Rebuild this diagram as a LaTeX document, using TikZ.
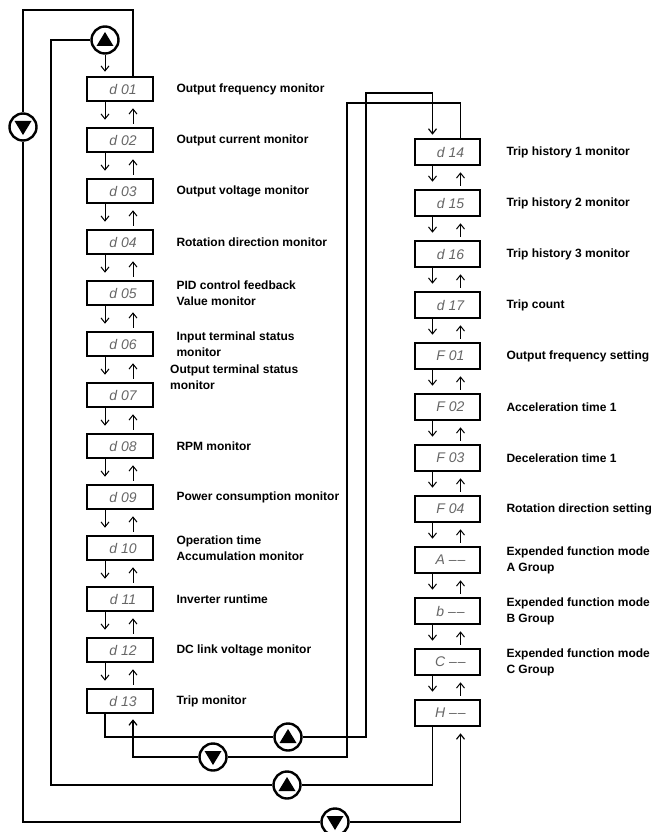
\documentclass[tikz,border=0pt]{standalone}
\usepackage{fontspec}
\usepackage{tikz}
\usetikzlibrary{arrows.meta,positioning}
\newfontfamily\lblfont{Liberation Sans}
\newfontfamily\dispfont{Liberation Sans}
\newcommand{\dsp}[1]{\hspace*{6pt}\textcolor{black!60}{#1}}

\tikzset{
  dispbox/.style={rectangle, draw=black, line width=2.6pt, minimum width=66pt, minimum height=24pt,
    inner sep=0pt, font=\dispfont\itshape\fontsize{14}{14}\selectfont},
  dispboxR/.style={dispbox, minimum width=65pt, minimum height=26pt},
  desc/.style={anchor=west, align=left, inner sep=0pt, font=\lblfont\bfseries\fontsize{12}{16}\selectfont},
  keybtn/.style={circle, draw, line width=2.4pt, minimum size=27pt, inner sep=0pt},
  keyup/.style={keybtn, path picture={\fill ([yshift=8pt]path picture bounding box.center)
    -- ++(-8.5pt,-14pt) -- ++(17pt,0pt) -- cycle;}},
  keydn/.style={keybtn, path picture={\fill ([yshift=-8pt]path picture bounding box.center)
    -- ++(-8.5pt,14pt) -- ++(17pt,0pt) -- cycle;}},
  wire/.style={line width=1.2pt},
  stepar/.style={->, line width=1pt},
  >={Straight Barb[length=5pt,width=8pt]},
}

\begin{document}
\begin{tikzpicture}[x=1pt,y=-1pt]
  \useasboundingbox (0,0) rectangle (656,832);

  % left column
  \node[dispbox] (d01) at (120,89) {\dsp{d 01}};
  \node[dispbox] (d02) at (120,140) {\dsp{d 02}};
  \node[dispbox] (d03) at (120,191) {\dsp{d 03}};
  \node[dispbox] (d04) at (120,242) {\dsp{d 04}};
  \node[dispbox] (d05) at (120,293) {\dsp{d 05}};
  \node[dispbox] (d06) at (120,344) {\dsp{d 06}};
  \node[dispbox] (d07) at (120,395) {\dsp{d 07}};
  \node[dispbox] (d08) at (120,446) {\dsp{d 08}};
  \node[dispbox] (d09) at (120,497) {\dsp{d 09}};
  \node[dispbox] (d10) at (120,548) {\dsp{d 10}};
  \node[dispbox] (d11) at (120,599) {\dsp{d 11}};
  \node[dispbox] (d12) at (120,650) {\dsp{d 12}};
  \node[dispbox] (d13) at (120,701) {\dsp{d 13}};

  \node[desc, right=22pt of d01] (l01) {Output frequency monitor};
  \node[desc, right=22pt of d02] (l02) {Output current monitor};
  \node[desc, right=22pt of d03] (l03) {Output voltage monitor};
  \node[desc, right=22pt of d04] (l04) {Rotation direction monitor};
  \node[desc, right=22pt of d05] (l05) {PID control feedback\\Value monitor};
  \node[desc, right=22pt of d06] (l06) {Input terminal status\\monitor};
  \node[desc] (l07) at (170,377) {Output terminal status\\monitor};
  \node[desc, right=22pt of d08] (l08) {RPM monitor};
  \node[desc, right=22pt of d09] (l09) {Power consumption monitor};
  \node[desc, right=22pt of d10] (l10) {Operation time\\Accumulation monitor};
  \node[desc, right=22pt of d11] (l11) {Inverter runtime};
  \node[desc, right=22pt of d12] (l12) {DC link voltage monitor};
  \node[desc, right=22pt of d13] (l13) {Trip monitor};

  % right column
  \node[dispboxR] (d14) at (447.5,152) {\dsp{d 14}};
  \node[dispboxR] (d15) at (447.5,203) {\dsp{d 15}};
  \node[dispboxR] (d16) at (447.5,254) {\dsp{d 16}};
  \node[dispboxR] (d17) at (447.5,305) {\dsp{d 17}};
  \node[dispboxR] (F01) at (447.5,356) {\dsp{F 01}};
  \node[dispboxR] (F02) at (447.5,407) {\dsp{F 02}};
  \node[dispboxR] (F03) at (447.5,458) {\dsp{F 03}};
  \node[dispboxR] (F04) at (447.5,509) {\dsp{F 04}};
  \node[dispboxR] (nA) at (447.5,560) {\dsp{A \textendash\kern1pt\textendash}};
  \node[dispboxR] (nb) at (447.5,611) {\dsp{b \textendash\kern1pt\textendash}};
  \node[dispboxR] (nC) at (447.5,662) {\dsp{C \textendash\kern1pt\textendash}};
  \node[dispboxR] (nH) at (447.5,713) {\dsp{H \textendash\kern1pt\textendash}};

  \node[desc, right=25pt of d14] (l14) {Trip history 1 monitor};
  \node[desc, right=25pt of d15] (l15) {Trip history 2 monitor};
  \node[desc, right=25pt of d16] (l16) {Trip history 3 monitor};
  \node[desc, right=25pt of d17] (l17) {Trip count};
  \node[desc, right=25pt of F01] (lF01) {Output frequency setting};
  \node[desc, right=25pt of F02] (lF02) {Acceleration time 1};
  \node[desc, right=25pt of F03] (lF03) {Deceleration time 1};
  \node[desc, right=25pt of F04] (lF04) {Rotation direction setting};
  \node[desc, right=25pt of nA] (lA) {Expended function mode\\A Group};
  \node[desc, right=25pt of nb] (lb) {Expended function mode\\B Group};
  \node[desc, right=25pt of nC] (lC) {Expended function mode\\C Group};

  % up / down steps between displays
  \foreach \a/\b in {d01/d02,d02/d03,d03/d04,d04/d05,d05/d06,d06/d07,d07/d08,d08/d09,
      d09/d10,d10/d11,d11/d12,d12/d13,d14/d15,d15/d16,d16/d17,d17/F01,F01/F02,
      F02/F03,F03/F04,F04/nA,nA/nb,nb/nC,nC/nH} {
    \draw[stepar] ([xshift=-15pt]\a.south) -- ([xshift=-15pt,yshift=7pt]\b.north);
    \draw[stepar] ([xshift=13pt,yshift=3pt]\b.north) -- ([xshift=13pt,yshift=-6pt]\a.south);
  }

  % keys
  \node[keyup] (upT) at (105,40) {};
  \node[keydn] (dnL) at (23,127) {};
  \node[keyup] (upM) at (288,737) {};
  \node[keydn] (dnM) at (213,757) {};
  \node[keyup] (upB) at (287,785) {};
  \node[keydn] (dnB) at (335,822) {};

  \coordinate (cTL) at (51,40);
  \coordinate (cOut) at (23,10);
  \coordinate (cIn) at (366,93);
  \coordinate (cMid) at (347,103);

  % wrap-around loops
  \draw[wire] ([xshift=-15pt]nH.south) |- (upB);
  \draw[wire] (upB) -| (cTL) -- (upT);
  \draw[stepar, shorten >=4pt] (upT) -- ([xshift=-15pt]d01.north);
  \draw[wire] ([xshift=13pt]d01.north) |- (cOut) -- (dnL);
  \draw[wire] (dnL) |- (dnB);
  \draw[wire, ->, shorten >=6pt] (dnB) -| ([xshift=13pt]nH.south);

  % d13 <-> d14
  \draw[wire] ([xshift=-15pt]d13.south) |- (upM);
  \draw[wire, ->, shorten >=3pt] (upM) -| (cIn) -| ([xshift=-15pt]d14.north);
  \draw[wire] ([xshift=13pt]d14.north) |- (cMid) |- (dnM);
  \draw[wire, ->, shorten >=5pt] (dnM) -| ([xshift=13pt]d13.south);
\end{tikzpicture}
\end{document}
